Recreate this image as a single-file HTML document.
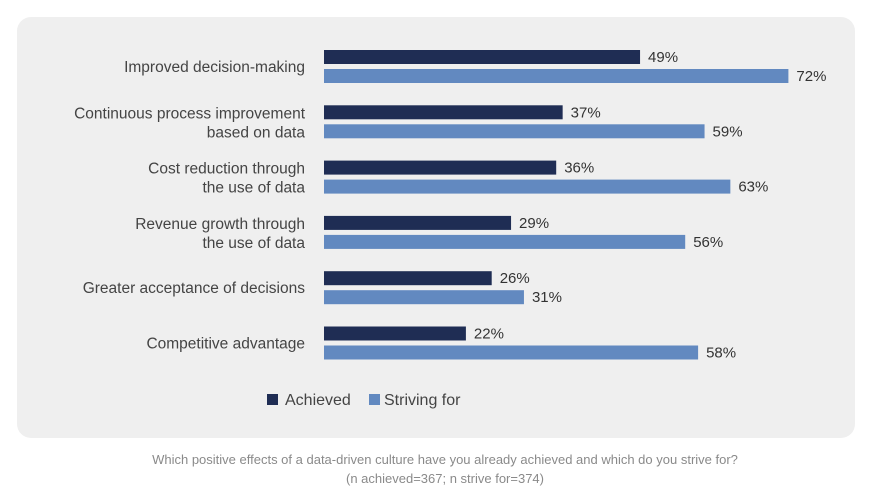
<!DOCTYPE html>
<html><head><meta charset="utf-8"><style>
body{margin:0;background:#fff;font-family:"Liberation Sans",sans-serif;}
#wrap{position:relative;width:890px;height:504px;}
#card{position:absolute;left:17px;top:17px;width:838px;height:421px;background:#efefef;border-radius:14px;}
.cap{position:absolute;left:0;width:890px;text-align:center;color:#8a8a8a;font-size:13px;}
</style></head><body>
<div id="wrap">
<div id="card"></div>
<svg id="svg" width="890" height="504" style="position:absolute;left:0;top:0"></svg>
<div class="cap" style="top:452px">Which positive effects of a data-driven culture have you already achieved and which do you strive for?</div>
<div class="cap" style="top:471px">(n achieved=367; n strive for=374)</div>
</div>
<script>
const categories=[["Improved decision-making"],["Continuous process improvement","based on data"],["Cost reduction through","the use of data"],["Revenue growth through","the use of data"],["Greater acceptance of decisions"],["Competitive advantage"]];
const achieved=[49,37,36,29,26,22];
const striving=[72,59,63,56,31,58];
const svg=document.getElementById('svg');
const NS='http://www.w3.org/2000/svg';
const x0=324,pxPer=6.45;
const xs=v=>x0+v*pxPer;
const yRow=i=>50+i*55.3;
function mk(t,a){const e=document.createElementNS(NS,t);for(const k in a)e.setAttribute(k,a[k]);svg.appendChild(e);return e;}
categories.forEach((lines,i)=>{
  const y=yRow(i);
  const r1=mk('rect',{x:x0,y:y,width:xs(achieved[i])-x0,height:14,fill:'#1f2d54'});
  
  
  const r2=mk('rect',{x:x0,y:y+19,width:xs(striving[i])-x0,height:14,fill:'#6289c0'});
  
  
  const t1=mk('text',{x:xs(achieved[i])+8,y:y+12,'font-size':15,fill:'#333'});t1.textContent=achieved[i]+'%';
  
  
  const t2=mk('text',{x:xs(striving[i])+8,y:y+31,'font-size':15,fill:'#333'});t2.textContent=striving[i]+'%';
  
  
  const cy=y+17+5;
  lines.forEach((ln,j)=>{
    const yy=lines.length===1?cy:cy-9+j*19;
    const c=mk('text',{x:305,y:yy,'font-size':15.5,fill:'#444','text-anchor':'end'});c.textContent=ln;
    
    
  });
});
const l1=mk('rect',{x:267,y:394,width:11,height:11,fill:'#1f2d54'});


const lt1=mk('text',{x:285,y:405,'font-size':16,fill:'#444'});lt1.textContent='Achieved';


const l2=mk('rect',{x:369,y:394,width:11,height:11,fill:'#6289c0'});


const lt2=mk('text',{x:384,y:405,'font-size':16,fill:'#444'});lt2.textContent='Striving for';


</script>
</body></html>
